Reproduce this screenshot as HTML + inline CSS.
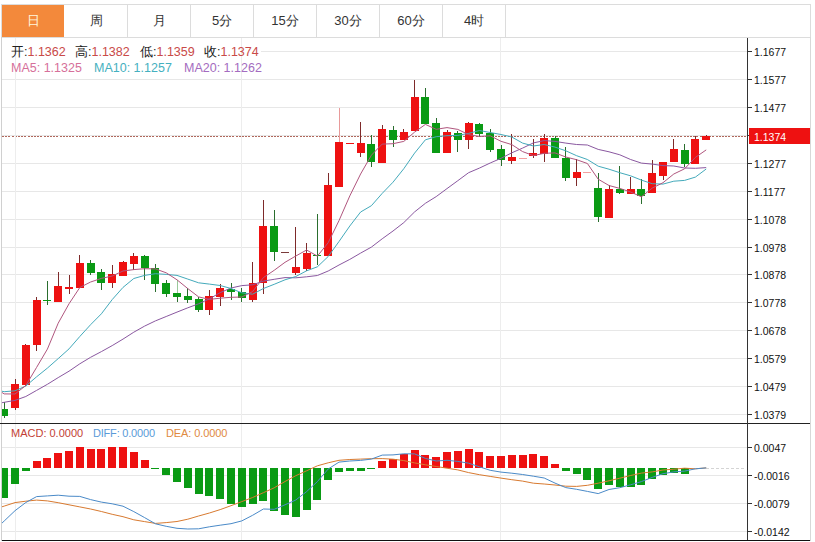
<!DOCTYPE html>
<html><head><meta charset="utf-8"><style>
html,body{margin:0;padding:0;background:#fff;}
body{width:815px;height:542px;position:relative;overflow:hidden;font-family:"Liberation Sans",sans-serif;}
.tabs{position:absolute;left:1px;top:4px;width:810px;height:34px;border:1px solid #dcdcdc;box-sizing:border-box;}
.tab{position:absolute;top:0;height:32px;line-height:32px;text-align:center;font-size:13px;color:#333;border-right:1px solid #dcdcdc;box-sizing:border-box;}
.tab.on{background:#f3893b;color:#fff6dc;border-right:none;}
.leg{position:absolute;font-size:12.5px;white-space:nowrap;line-height:14px;}
.lab{color:#222;}
.val{color:#c94a48;}
</style></head><body>
<div class="tabs">
<div class="tab on" style="left:0;width:62px;top:0;">日</div>
<div class="tab" style="left:63px;width:63px;">周</div>
<div class="tab" style="left:126px;width:63px;">月</div>
<div class="tab" style="left:189px;width:63px;">5分</div>
<div class="tab" style="left:252px;width:63px;">15分</div>
<div class="tab" style="left:315px;width:63px;">30分</div>
<div class="tab" style="left:378px;width:63px;">60分</div>
<div class="tab" style="left:441px;width:63px;">4时</div>
</div>
<svg width="815" height="542" style="position:absolute;left:0;top:0">
<g stroke="#e7e7e7" stroke-width="1" shape-rendering="crispEdges">
<line x1="2" y1="51.5" x2="747" y2="51.5"/>
<line x1="2" y1="79.5" x2="747" y2="79.5"/>
<line x1="2" y1="107.5" x2="747" y2="107.5"/>
<line x1="2" y1="135.5" x2="747" y2="135.5"/>
<line x1="2" y1="163.5" x2="747" y2="163.5"/>
<line x1="2" y1="191.5" x2="747" y2="191.5"/>
<line x1="2" y1="219.5" x2="747" y2="219.5"/>
<line x1="2" y1="247.5" x2="747" y2="247.5"/>
<line x1="2" y1="274.5" x2="747" y2="274.5"/>
<line x1="2" y1="302.5" x2="747" y2="302.5"/>
<line x1="2" y1="330.5" x2="747" y2="330.5"/>
<line x1="2" y1="358.5" x2="747" y2="358.5"/>
<line x1="2" y1="386.5" x2="747" y2="386.5"/>
<line x1="2" y1="414.5" x2="747" y2="414.5"/>
<line x1="2" y1="447.5" x2="747" y2="447.5"/>
<line x1="2" y1="475.5" x2="747" y2="475.5"/>
<line x1="2" y1="503.5" x2="747" y2="503.5"/>
<line x1="2" y1="531.5" x2="747" y2="531.5"/>
</g>
<line x1="2" y1="136.5" x2="747" y2="136.5" stroke="#b0685c" stroke-width="1" stroke-dasharray="2 1.2" shape-rendering="crispEdges"/>
<line x1="706" y1="468.5" x2="746" y2="468.5" stroke="#d4d4d4" stroke-width="1" stroke-dasharray="3 2" shape-rendering="crispEdges"/>
<rect x="2" y="42" width="259" height="32" fill="#fff"/>
<rect x="2" y="425" width="229" height="17" fill="#fff"/>
<g stroke="#ededed" stroke-width="1" shape-rendering="crispEdges">
<line x1="15.5" y1="38" x2="15.5" y2="540"/>
<line x1="241.5" y1="38" x2="241.5" y2="540"/>
<line x1="500.5" y1="38" x2="500.5" y2="540"/>
</g>
<g shape-rendering="crispEdges">
<line x1="4.5" y1="402.0" x2="4.5" y2="409.0" stroke="#2a6e2e"/>
<line x1="4.5" y1="416.0" x2="4.5" y2="418.0" stroke="#2a6e2e"/>
<rect x="2" y="409" width="6" height="7" fill="#0a9a14"/>
<line x1="15.5" y1="379.0" x2="15.5" y2="384.0" stroke="#7e2a2a"/>
<line x1="15.5" y1="408.0" x2="15.5" y2="410.0" stroke="#7e2a2a"/>
<rect x="11" y="384" width="8" height="24" fill="#ee1111"/>
<line x1="25.5" y1="344.0" x2="25.5" y2="345.0" stroke="#7e2a2a"/>
<line x1="25.5" y1="385.0" x2="25.5" y2="386.0" stroke="#7e2a2a"/>
<rect x="22" y="345" width="8" height="40" fill="#ee1111"/>
<line x1="36.5" y1="297.0" x2="36.5" y2="300.0" stroke="#7e2a2a"/>
<line x1="36.5" y1="345.0" x2="36.5" y2="351.0" stroke="#7e2a2a"/>
<rect x="33" y="300" width="8" height="45" fill="#ee1111"/>
<line x1="47.5" y1="281.0" x2="47.5" y2="300.0" stroke="#2a6e2e"/>
<line x1="47.5" y1="301.0" x2="47.5" y2="305.0" stroke="#2a6e2e"/>
<rect x="43" y="300" width="8" height="1" fill="#0a9a14"/>
<line x1="58.5" y1="272.0" x2="58.5" y2="286.0" stroke="#7e2a2a"/>
<rect x="54" y="286" width="8" height="16" fill="#ee1111"/>
<line x1="69.5" y1="275.0" x2="69.5" y2="287.0" stroke="#7e2a2a"/>
<line x1="69.5" y1="289.0" x2="69.5" y2="294.0" stroke="#7e2a2a"/>
<rect x="65" y="287" width="8" height="2" fill="#ee1111"/>
<line x1="79.5" y1="255.0" x2="79.5" y2="263.0" stroke="#7e2a2a"/>
<line x1="79.5" y1="288.0" x2="79.5" y2="288.0" stroke="#7e2a2a"/>
<rect x="76" y="263" width="8" height="25" fill="#ee1111"/>
<line x1="90.5" y1="260.0" x2="90.5" y2="263.0" stroke="#2a6e2e"/>
<line x1="90.5" y1="273.0" x2="90.5" y2="275.0" stroke="#2a6e2e"/>
<rect x="87" y="263" width="8" height="10" fill="#0a9a14"/>
<line x1="101.5" y1="269.0" x2="101.5" y2="272.0" stroke="#2a6e2e"/>
<line x1="101.5" y1="283.0" x2="101.5" y2="290.0" stroke="#2a6e2e"/>
<rect x="97" y="272" width="8" height="11" fill="#0a9a14"/>
<line x1="112.5" y1="265.0" x2="112.5" y2="274.0" stroke="#7e2a2a"/>
<line x1="112.5" y1="283.0" x2="112.5" y2="288.0" stroke="#7e2a2a"/>
<rect x="108" y="274" width="8" height="9" fill="#ee1111"/>
<line x1="123.5" y1="261.0" x2="123.5" y2="262.0" stroke="#7e2a2a"/>
<rect x="119" y="262" width="8" height="14" fill="#ee1111"/>
<line x1="133.5" y1="253.0" x2="133.5" y2="256.0" stroke="#7e2a2a"/>
<line x1="133.5" y1="264.0" x2="133.5" y2="270.0" stroke="#7e2a2a"/>
<rect x="130" y="256" width="8" height="8" fill="#ee1111"/>
<line x1="144.5" y1="255.0" x2="144.5" y2="256.0" stroke="#2a6e2e"/>
<line x1="144.5" y1="268.0" x2="144.5" y2="280.0" stroke="#2a6e2e"/>
<rect x="141" y="256" width="8" height="12" fill="#0a9a14"/>
<line x1="155.5" y1="264.0" x2="155.5" y2="268.0" stroke="#2a6e2e"/>
<line x1="155.5" y1="284.0" x2="155.5" y2="292.0" stroke="#2a6e2e"/>
<rect x="151" y="268" width="8" height="16" fill="#0a9a14"/>
<line x1="166.5" y1="280.0" x2="166.5" y2="283.0" stroke="#2a6e2e"/>
<line x1="166.5" y1="294.0" x2="166.5" y2="297.0" stroke="#2a6e2e"/>
<rect x="162" y="283" width="8" height="11" fill="#0a9a14"/>
<line x1="177.5" y1="280.0" x2="177.5" y2="293.0" stroke="#9ac89a"/>
<line x1="177.5" y1="297.0" x2="177.5" y2="302.0" stroke="#2a6e2e"/>
<rect x="173" y="293" width="8" height="4" fill="#0a9a14"/>
<line x1="187.5" y1="288.0" x2="187.5" y2="296.0" stroke="#2a6e2e"/>
<line x1="187.5" y1="300.0" x2="187.5" y2="303.0" stroke="#2a6e2e"/>
<rect x="184" y="296" width="8" height="4" fill="#0a9a14"/>
<line x1="198.5" y1="297.0" x2="198.5" y2="299.0" stroke="#2a6e2e"/>
<line x1="198.5" y1="310.0" x2="198.5" y2="312.0" stroke="#2a6e2e"/>
<rect x="195" y="299" width="8" height="11" fill="#0a9a14"/>
<line x1="209.5" y1="290.0" x2="209.5" y2="296.0" stroke="#7e2a2a"/>
<line x1="209.5" y1="310.0" x2="209.5" y2="315.0" stroke="#7e2a2a"/>
<rect x="205" y="296" width="8" height="14" fill="#ee1111"/>
<line x1="220.5" y1="284.0" x2="220.5" y2="288.0" stroke="#7e2a2a"/>
<line x1="220.5" y1="297.0" x2="220.5" y2="306.0" stroke="#7e2a2a"/>
<rect x="216" y="288" width="8" height="9" fill="#ee1111"/>
<line x1="231.5" y1="283.0" x2="231.5" y2="289.0" stroke="#2a6e2e"/>
<line x1="231.5" y1="292.0" x2="231.5" y2="300.0" stroke="#2a6e2e"/>
<rect x="227" y="289" width="8" height="3" fill="#0a9a14"/>
<line x1="241.5" y1="288.0" x2="241.5" y2="292.0" stroke="#2a6e2e"/>
<line x1="241.5" y1="298.0" x2="241.5" y2="302.0" stroke="#2a6e2e"/>
<rect x="238" y="292" width="8" height="6" fill="#0a9a14"/>
<line x1="252.5" y1="262.0" x2="252.5" y2="283.0" stroke="#7e2a2a"/>
<line x1="252.5" y1="300.0" x2="252.5" y2="302.0" stroke="#7e2a2a"/>
<rect x="249" y="283" width="8" height="17" fill="#ee1111"/>
<line x1="263.5" y1="200.0" x2="263.5" y2="226.0" stroke="#7e2a2a"/>
<line x1="263.5" y1="283.0" x2="263.5" y2="294.0" stroke="#7e2a2a"/>
<rect x="259" y="226" width="8" height="57" fill="#ee1111"/>
<line x1="274.5" y1="210.0" x2="274.5" y2="226.0" stroke="#2a6e2e"/>
<line x1="274.5" y1="252.0" x2="274.5" y2="261.0" stroke="#2a6e2e"/>
<rect x="270" y="226" width="8" height="26" fill="#0a9a14"/>
<rect x="281" y="252" width="8" height="1" fill="#7a3a3a"/>
<line x1="295.5" y1="227.0" x2="295.5" y2="267.0" stroke="#7e2a2a"/>
<line x1="295.5" y1="273.0" x2="295.5" y2="275.0" stroke="#7e2a2a"/>
<rect x="292" y="267" width="8" height="6" fill="#ee1111"/>
<line x1="306.5" y1="243.0" x2="306.5" y2="253.0" stroke="#7e2a2a"/>
<line x1="306.5" y1="269.0" x2="306.5" y2="271.0" stroke="#7e2a2a"/>
<rect x="303" y="253" width="8" height="16" fill="#ee1111"/>
<line x1="317.5" y1="214.0" x2="317.5" y2="255.0" stroke="#2a6e2e"/>
<line x1="317.5" y1="256.0" x2="317.5" y2="265.0" stroke="#2a6e2e"/>
<rect x="313" y="255" width="8" height="1" fill="#0a9a14"/>
<line x1="328.5" y1="173.0" x2="328.5" y2="185.0" stroke="#7e2a2a"/>
<rect x="324" y="185" width="8" height="71" fill="#ee1111"/>
<line x1="339.5" y1="108.0" x2="339.5" y2="142.0" stroke="#e89a9a"/>
<rect x="335" y="142" width="8" height="45" fill="#ee1111"/>
<rect x="346" y="143" width="8" height="1" fill="#ee1111"/>
<line x1="360.5" y1="122.0" x2="360.5" y2="143.0" stroke="#7e2a2a"/>
<line x1="360.5" y1="153.0" x2="360.5" y2="157.0" stroke="#7e2a2a"/>
<rect x="357" y="143" width="8" height="10" fill="#ee1111"/>
<line x1="371.5" y1="135.0" x2="371.5" y2="144.0" stroke="#2a6e2e"/>
<line x1="371.5" y1="162.0" x2="371.5" y2="167.0" stroke="#2a6e2e"/>
<rect x="367" y="144" width="8" height="18" fill="#0a9a14"/>
<line x1="382.5" y1="125.0" x2="382.5" y2="129.0" stroke="#7e2a2a"/>
<rect x="378" y="129" width="8" height="34" fill="#ee1111"/>
<line x1="393.5" y1="126.0" x2="393.5" y2="130.0" stroke="#2a6e2e"/>
<line x1="393.5" y1="140.0" x2="393.5" y2="147.0" stroke="#2a6e2e"/>
<rect x="389" y="130" width="8" height="10" fill="#0a9a14"/>
<line x1="403.5" y1="129.0" x2="403.5" y2="132.0" stroke="#7e2a2a"/>
<rect x="400" y="132" width="8" height="8" fill="#ee1111"/>
<line x1="414.5" y1="80.0" x2="414.5" y2="97.0" stroke="#7e2a2a"/>
<rect x="411" y="97" width="8" height="34" fill="#ee1111"/>
<line x1="425.5" y1="88.0" x2="425.5" y2="97.0" stroke="#2a6e2e"/>
<rect x="421" y="97" width="8" height="27" fill="#0a9a14"/>
<line x1="436.5" y1="118.0" x2="436.5" y2="123.0" stroke="#2a6e2e"/>
<rect x="432" y="123" width="8" height="30" fill="#0a9a14"/>
<line x1="447.5" y1="130.0" x2="447.5" y2="132.0" stroke="#7e2a2a"/>
<rect x="443" y="132" width="8" height="21" fill="#ee1111"/>
<line x1="457.5" y1="131.0" x2="457.5" y2="133.0" stroke="#2a6e2e"/>
<line x1="457.5" y1="140.0" x2="457.5" y2="152.0" stroke="#2a6e2e"/>
<rect x="454" y="133" width="8" height="7" fill="#0a9a14"/>
<line x1="468.5" y1="122.0" x2="468.5" y2="123.0" stroke="#7e2a2a"/>
<line x1="468.5" y1="140.0" x2="468.5" y2="149.0" stroke="#7e2a2a"/>
<rect x="465" y="123" width="8" height="17" fill="#ee1111"/>
<line x1="479.5" y1="123.0" x2="479.5" y2="124.0" stroke="#2a6e2e"/>
<line x1="479.5" y1="134.0" x2="479.5" y2="137.0" stroke="#2a6e2e"/>
<rect x="475" y="124" width="8" height="10" fill="#0a9a14"/>
<line x1="490.5" y1="129.0" x2="490.5" y2="133.0" stroke="#2a6e2e"/>
<line x1="490.5" y1="150.0" x2="490.5" y2="152.0" stroke="#2a6e2e"/>
<rect x="486" y="133" width="8" height="17" fill="#0a9a14"/>
<line x1="501.5" y1="145.0" x2="501.5" y2="149.0" stroke="#2a6e2e"/>
<line x1="501.5" y1="160.0" x2="501.5" y2="166.0" stroke="#2a6e2e"/>
<rect x="497" y="149" width="8" height="11" fill="#0a9a14"/>
<line x1="511.5" y1="134.0" x2="511.5" y2="157.0" stroke="#7e2a2a"/>
<line x1="511.5" y1="161.0" x2="511.5" y2="164.0" stroke="#7e2a2a"/>
<rect x="508" y="157" width="8" height="4" fill="#ee1111"/>
<rect x="519" y="158" width="8" height="1" fill="#f4a0a0"/>
<line x1="533.5" y1="139.0" x2="533.5" y2="153.0" stroke="#7e2a2a"/>
<line x1="533.5" y1="156.0" x2="533.5" y2="158.0" stroke="#7e2a2a"/>
<rect x="529" y="153" width="8" height="3" fill="#ee1111"/>
<line x1="544.5" y1="134.0" x2="544.5" y2="138.0" stroke="#7e2a2a"/>
<line x1="544.5" y1="154.0" x2="544.5" y2="162.0" stroke="#7e2a2a"/>
<rect x="540" y="138" width="8" height="16" fill="#ee1111"/>
<line x1="555.5" y1="136.0" x2="555.5" y2="138.0" stroke="#2a6e2e"/>
<rect x="551" y="138" width="8" height="20" fill="#0a9a14"/>
<line x1="565.5" y1="147.0" x2="565.5" y2="158.0" stroke="#2a6e2e"/>
<line x1="565.5" y1="178.0" x2="565.5" y2="181.0" stroke="#2a6e2e"/>
<rect x="562" y="158" width="8" height="20" fill="#0a9a14"/>
<line x1="576.5" y1="159.0" x2="576.5" y2="172.0" stroke="#7e2a2a"/>
<line x1="576.5" y1="178.0" x2="576.5" y2="186.0" stroke="#7e2a2a"/>
<rect x="573" y="172" width="8" height="6" fill="#ee1111"/>
<rect x="583" y="172" width="8" height="1" fill="#f4a0a0"/>
<line x1="598.5" y1="173.0" x2="598.5" y2="188.0" stroke="#2a6e2e"/>
<line x1="598.5" y1="217.0" x2="598.5" y2="222.0" stroke="#2a6e2e"/>
<rect x="594" y="188" width="8" height="29" fill="#0a9a14"/>
<line x1="609.5" y1="185.0" x2="609.5" y2="189.0" stroke="#7e2a2a"/>
<rect x="605" y="189" width="8" height="29" fill="#ee1111"/>
<line x1="619.5" y1="166.0" x2="619.5" y2="189.0" stroke="#2a6e2e"/>
<line x1="619.5" y1="193.0" x2="619.5" y2="194.0" stroke="#2a6e2e"/>
<rect x="616" y="189" width="8" height="4" fill="#0a9a14"/>
<line x1="630.5" y1="177.0" x2="630.5" y2="189.0" stroke="#7e2a2a"/>
<rect x="627" y="189" width="8" height="5" fill="#ee1111"/>
<line x1="641.5" y1="179.0" x2="641.5" y2="189.0" stroke="#2a6e2e"/>
<line x1="641.5" y1="196.0" x2="641.5" y2="204.0" stroke="#2a6e2e"/>
<rect x="637" y="189" width="8" height="7" fill="#0a9a14"/>
<line x1="652.5" y1="160.0" x2="652.5" y2="173.0" stroke="#7e2a2a"/>
<rect x="648" y="173" width="8" height="20" fill="#ee1111"/>
<line x1="663.5" y1="176.0" x2="663.5" y2="180.0" stroke="#7e2a2a"/>
<rect x="659" y="162" width="8" height="14" fill="#ee1111"/>
<line x1="673.5" y1="139.0" x2="673.5" y2="149.0" stroke="#7e2a2a"/>
<rect x="670" y="149" width="8" height="13" fill="#ee1111"/>
<line x1="684.5" y1="144.0" x2="684.5" y2="150.0" stroke="#2a6e2e"/>
<line x1="684.5" y1="164.0" x2="684.5" y2="167.0" stroke="#2a6e2e"/>
<rect x="681" y="150" width="8" height="14" fill="#0a9a14"/>
<line x1="695.5" y1="136.0" x2="695.5" y2="139.0" stroke="#7e2a2a"/>
<rect x="691" y="139" width="8" height="25" fill="#ee1111"/>
<line x1="706.5" y1="135.0" x2="706.5" y2="136.0" stroke="#7e2a2a"/>
<rect x="702" y="136" width="8" height="4" fill="#ee1111"/>
</g>
<svg x="2" y="38" width="745" height="385" overflow="hidden"><g transform="translate(-2,-38)">
<polyline points="-6.6,404.3 4.2,402.3 15.0,400.4 25.8,396.5 36.6,390.4 47.4,384.3 58.2,377.6 69.0,371.2 79.8,363.8 90.6,357.3 101.4,351.6 112.2,345.6 123.0,339.1 133.8,332.2 144.6,326.1 155.4,320.9 166.2,316.5 177.0,312.1 187.8,307.8 198.6,303.8 209.4,298.9 220.2,292.6 231.0,288.0 241.8,285.6 252.6,284.8 263.4,281.1 274.2,279.3 285.0,277.6 295.8,277.8 306.6,276.8 317.4,275.5 328.2,271.0 339.0,265.0 349.8,259.4 360.6,253.1 371.4,247.1 382.2,238.8 393.0,231.0 403.8,222.6 414.6,211.9 425.4,203.3 436.2,196.6 447.0,188.6 457.8,180.7 468.6,172.7 479.4,168.1 490.2,163.0 501.0,158.3 511.8,152.8 522.6,148.1 533.4,142.9 544.2,140.6 555.0,141.4 565.8,143.1 576.6,144.5 587.4,145.0 598.2,149.4 609.0,151.8 619.8,154.8 630.6,159.5 641.4,163.1 652.2,164.1 663.0,165.6 673.8,166.0 684.6,168.0 695.4,168.3 706.2,167.6" fill="none" stroke="#8a58a0" stroke-width="1"/>
<polyline points="-6.6,389.4 4.2,391.7 15.0,390.8 25.8,386.0 36.6,376.8 47.4,368.1 58.2,358.6 69.0,348.9 79.8,336.5 90.6,324.7 101.4,313.8 112.2,299.6 123.0,287.4 133.8,278.5 144.6,275.4 155.4,273.7 166.2,274.4 177.0,275.4 187.8,279.1 198.6,282.8 209.4,284.1 220.2,285.5 231.0,288.5 241.8,292.8 252.6,294.2 263.4,288.5 274.2,284.3 285.0,279.8 295.8,276.5 306.6,270.8 317.4,266.8 328.2,256.5 339.0,241.5 349.8,226.0 360.6,212.0 371.4,205.7 382.2,193.4 393.0,182.2 403.8,168.7 414.6,153.1 425.4,139.8 436.2,136.7 447.0,135.7 457.8,135.4 468.6,133.4 479.4,130.5 490.2,132.5 501.0,134.5 511.8,137.0 522.6,143.1 533.4,146.0 544.2,144.5 555.0,147.1 565.8,150.8 576.6,155.7 587.4,159.5 598.2,166.2 609.0,169.2 619.8,172.7 630.6,175.8 641.4,180.1 652.2,183.7 663.0,184.1 673.8,181.2 684.6,180.4 695.4,177.1 706.2,169.0" fill="none" stroke="#44aabb" stroke-width="1"/>
<polyline points="-6.6,387.1 4.2,393.9 15.0,394.0 25.8,385.5 36.6,367.4 47.4,349.1 58.2,323.2 69.0,303.8 79.8,287.5 90.6,282.0 101.4,278.4 112.2,276.0 123.0,271.0 133.8,269.6 144.6,268.7 155.4,268.9 166.2,272.8 177.0,279.8 187.8,288.6 198.6,296.9 209.4,299.4 220.2,298.2 231.0,297.3 241.8,297.0 252.6,291.6 263.4,277.6 274.2,270.3 285.0,262.3 295.8,256.0 306.6,250.0 317.4,256.1 328.2,242.7 339.0,220.6 349.8,195.9 360.6,174.0 371.4,155.2 382.2,144.1 393.0,143.7 403.8,141.4 414.6,132.1 425.4,124.4 436.2,129.3 447.0,127.6 457.8,129.4 468.6,134.6 479.4,136.5 490.2,135.8 501.0,141.3 511.8,144.6 522.6,151.6 533.4,155.6 544.2,153.3 555.0,152.9 565.8,157.0 576.6,159.7 587.4,163.5 598.2,179.2 609.0,185.5 619.8,188.4 630.6,192.0 641.4,196.8 652.2,188.1 663.0,182.7 673.8,174.0 684.6,168.8 695.4,157.4 706.2,149.9" fill="none" stroke="#b0567e" stroke-width="1"/>
</g></svg>
<g shape-rendering="crispEdges">
<rect x="2" y="468" width="6" height="30" fill="#0a9a14"/>
<rect x="11" y="468" width="8" height="16" fill="#0a9a14"/>
<rect x="22" y="468" width="8" height="3" fill="#0a9a14"/>
<rect x="33" y="461" width="8" height="7" fill="#ee1111"/>
<rect x="43" y="458" width="8" height="10" fill="#ee1111"/>
<rect x="54" y="453" width="8" height="15" fill="#ee1111"/>
<rect x="65" y="451" width="8" height="17" fill="#ee1111"/>
<rect x="76" y="447" width="8" height="21" fill="#ee1111"/>
<rect x="87" y="449" width="8" height="19" fill="#ee1111"/>
<rect x="97" y="449" width="8" height="19" fill="#ee1111"/>
<rect x="108" y="447" width="8" height="21" fill="#ee1111"/>
<rect x="119" y="447" width="8" height="21" fill="#ee1111"/>
<rect x="130" y="452" width="8" height="16" fill="#ee1111"/>
<rect x="141" y="460" width="8" height="8" fill="#ee1111"/>
<rect x="151" y="468" width="8" height="1" fill="#0a9a14"/>
<rect x="162" y="468" width="8" height="7" fill="#0a9a14"/>
<rect x="173" y="468" width="8" height="14" fill="#0a9a14"/>
<rect x="184" y="468" width="8" height="20" fill="#0a9a14"/>
<rect x="195" y="468" width="8" height="26" fill="#0a9a14"/>
<rect x="205" y="468" width="8" height="28" fill="#0a9a14"/>
<rect x="216" y="468" width="8" height="31" fill="#0a9a14"/>
<rect x="227" y="468" width="8" height="36" fill="#0a9a14"/>
<rect x="238" y="468" width="8" height="39" fill="#0a9a14"/>
<rect x="249" y="468" width="8" height="36" fill="#0a9a14"/>
<rect x="259" y="468" width="8" height="33" fill="#0a9a14"/>
<rect x="270" y="468" width="8" height="43" fill="#0a9a14"/>
<rect x="281" y="468" width="8" height="47" fill="#0a9a14"/>
<rect x="292" y="468" width="8" height="49" fill="#0a9a14"/>
<rect x="303" y="468" width="8" height="42" fill="#0a9a14"/>
<rect x="313" y="468" width="8" height="32" fill="#0a9a14"/>
<rect x="324" y="468" width="8" height="12" fill="#0a9a14"/>
<rect x="335" y="468" width="8" height="4" fill="#0a9a14"/>
<rect x="346" y="468" width="8" height="3" fill="#0a9a14"/>
<rect x="357" y="468" width="8" height="3" fill="#0a9a14"/>
<rect x="367" y="468" width="8" height="1" fill="#0a9a14"/>
<rect x="378" y="461" width="8" height="7" fill="#ee1111"/>
<rect x="389" y="459" width="8" height="9" fill="#ee1111"/>
<rect x="400" y="454" width="8" height="14" fill="#ee1111"/>
<rect x="411" y="450" width="8" height="18" fill="#ee1111"/>
<rect x="421" y="455" width="8" height="13" fill="#ee1111"/>
<rect x="432" y="457" width="8" height="11" fill="#ee1111"/>
<rect x="443" y="452" width="8" height="16" fill="#ee1111"/>
<rect x="454" y="451" width="8" height="17" fill="#ee1111"/>
<rect x="465" y="449" width="8" height="19" fill="#ee1111"/>
<rect x="475" y="452" width="8" height="16" fill="#ee1111"/>
<rect x="486" y="456" width="8" height="12" fill="#ee1111"/>
<rect x="497" y="456" width="8" height="12" fill="#ee1111"/>
<rect x="508" y="455" width="8" height="13" fill="#ee1111"/>
<rect x="519" y="455" width="8" height="13" fill="#ee1111"/>
<rect x="529" y="454" width="8" height="14" fill="#ee1111"/>
<rect x="540" y="456" width="8" height="12" fill="#ee1111"/>
<rect x="551" y="464" width="8" height="4" fill="#ee1111"/>
<rect x="562" y="468" width="8" height="3" fill="#0a9a14"/>
<rect x="573" y="468" width="8" height="6" fill="#0a9a14"/>
<rect x="583" y="468" width="8" height="12" fill="#0a9a14"/>
<rect x="594" y="468" width="8" height="21" fill="#0a9a14"/>
<rect x="605" y="468" width="8" height="17" fill="#0a9a14"/>
<rect x="616" y="468" width="8" height="19" fill="#0a9a14"/>
<rect x="627" y="468" width="8" height="19" fill="#0a9a14"/>
<rect x="637" y="468" width="8" height="17" fill="#0a9a14"/>
<rect x="648" y="468" width="8" height="11" fill="#0a9a14"/>
<rect x="659" y="468" width="8" height="7" fill="#0a9a14"/>
<rect x="670" y="468" width="8" height="5" fill="#0a9a14"/>
<rect x="681" y="468" width="8" height="6" fill="#0a9a14"/>
</g>
<svg x="2" y="424" width="745" height="116" overflow="hidden"><g transform="translate(-2,-424)">
<polyline points="-6.6,509.5 4.2,506.1 15.0,502.6 25.8,501.2 36.6,500.1 47.4,500.9 58.2,502.7 69.0,504.8 79.8,506.9 90.6,509.0 101.4,511.5 112.2,514.3 123.0,516.7 133.8,519.8 144.6,521.6 155.4,523.4 166.2,522.6 177.0,521.5 187.8,519.2 198.6,516.0 209.4,513.0 220.2,509.6 231.0,505.7 241.8,501.6 252.6,497.5 263.4,492.7 274.2,487.8 285.0,481.5 295.8,475.7 306.6,470.8 317.4,465.8 328.2,462.8 339.0,460.3 349.8,459.5 360.6,459.1 371.4,458.7 382.2,458.6 393.0,459.2 403.8,460.6 414.6,462.9 425.4,464.8 436.2,466.5 447.0,468.2 457.8,469.9 468.6,472.6 479.4,474.7 490.2,476.4 501.0,478.1 511.8,479.7 522.6,481.1 533.4,483.2 544.2,484.0 555.0,485.0 565.8,486.2 576.6,486.4 587.4,485.3 598.2,483.2 609.0,480.8 619.8,478.2 630.6,475.5 641.4,473.1 652.2,471.9 663.0,470.0 673.8,469.2 684.6,468.2 695.4,468.8 706.2,467.9" fill="none" stroke="#d87a30" stroke-width="1"/>
<polyline points="-6.6,531.2 4.2,521.0 15.0,510.7 25.8,502.5 36.6,496.6 47.4,495.9 58.2,495.2 69.0,496.2 79.8,496.4 90.6,499.6 101.4,502.1 112.2,503.8 123.0,506.2 133.8,511.6 144.6,517.6 155.4,523.8 166.2,526.3 177.0,528.3 187.8,529.0 198.6,528.8 209.4,526.8 220.2,525.2 231.0,523.7 241.8,520.9 252.6,515.3 263.4,509.0 274.2,509.3 285.0,504.8 295.8,500.0 306.6,491.6 317.4,481.6 328.2,469.0 339.0,462.1 349.8,461.0 360.6,460.4 371.4,459.1 382.2,455.1 393.0,454.9 403.8,453.8 414.6,453.9 425.4,458.4 436.2,461.0 447.0,460.3 457.8,461.4 468.6,463.2 479.4,466.8 490.2,470.3 501.0,472.1 511.8,473.2 522.6,474.5 533.4,476.2 544.2,478.0 555.0,483.1 565.8,487.6 576.6,489.3 587.4,491.4 598.2,493.6 609.0,489.5 619.8,487.7 630.6,484.8 641.4,481.6 652.2,477.4 663.0,473.7 673.8,471.9 684.6,471.1 695.4,468.8 706.2,467.9" fill="none" stroke="#4a8ac8" stroke-width="1"/>
</g></svg>
<g shape-rendering="crispEdges" stroke-width="1">
<line x1="1.5" y1="37" x2="1.5" y2="541" stroke="#d0d0d0"/>
<line x1="810.5" y1="37" x2="810.5" y2="541" stroke="#d8d8d8"/>
<line x1="0" y1="423.5" x2="810" y2="423.5" stroke="#222"/>
<line x1="2" y1="540.5" x2="810" y2="540.5" stroke="#111"/>
<line x1="747.5" y1="38" x2="747.5" y2="540" stroke="#333"/>
<line x1="748" y1="51.5" x2="752" y2="51.5" stroke="#333"/>
<line x1="748" y1="79.5" x2="752" y2="79.5" stroke="#333"/>
<line x1="748" y1="107.5" x2="752" y2="107.5" stroke="#333"/>
<line x1="748" y1="135.5" x2="752" y2="135.5" stroke="#333"/>
<line x1="748" y1="163.5" x2="752" y2="163.5" stroke="#333"/>
<line x1="748" y1="191.5" x2="752" y2="191.5" stroke="#333"/>
<line x1="748" y1="219.5" x2="752" y2="219.5" stroke="#333"/>
<line x1="748" y1="247.5" x2="752" y2="247.5" stroke="#333"/>
<line x1="748" y1="274.5" x2="752" y2="274.5" stroke="#333"/>
<line x1="748" y1="302.5" x2="752" y2="302.5" stroke="#333"/>
<line x1="748" y1="330.5" x2="752" y2="330.5" stroke="#333"/>
<line x1="748" y1="358.5" x2="752" y2="358.5" stroke="#333"/>
<line x1="748" y1="386.5" x2="752" y2="386.5" stroke="#333"/>
<line x1="748" y1="414.5" x2="752" y2="414.5" stroke="#333"/>
<line x1="748" y1="447.5" x2="752" y2="447.5" stroke="#333"/>
<line x1="748" y1="475.5" x2="752" y2="475.5" stroke="#333"/>
<line x1="748" y1="503.5" x2="752" y2="503.5" stroke="#333"/>
<line x1="748" y1="531.5" x2="752" y2="531.5" stroke="#333"/>
</g>
<g font-family="Liberation Sans, sans-serif" font-size="10.5" fill="#111">
<text x="754" y="52.3" dominant-baseline="central">1.1677</text>
<text x="754" y="80.1" dominant-baseline="central">1.1577</text>
<text x="754" y="107.7" dominant-baseline="central">1.1477</text>
<text x="754" y="163.7" dominant-baseline="central">1.1277</text>
<text x="754" y="191.8" dominant-baseline="central">1.1177</text>
<text x="754" y="219.5" dominant-baseline="central">1.1078</text>
<text x="754" y="247.8" dominant-baseline="central">1.0978</text>
<text x="754" y="275.2" dominant-baseline="central">1.0878</text>
<text x="754" y="302.9" dominant-baseline="central">1.0778</text>
<text x="754" y="330.6" dominant-baseline="central">1.0678</text>
<text x="754" y="358.6" dominant-baseline="central">1.0579</text>
<text x="754" y="386.6" dominant-baseline="central">1.0479</text>
<text x="754" y="414.7" dominant-baseline="central">1.0379</text>
<text x="754" y="448.0" dominant-baseline="central">0.0047</text>
<text x="754" y="475.6" dominant-baseline="central">-0.0016</text>
<text x="754" y="503.8" dominant-baseline="central">-0.0079</text>
<text x="754" y="531.9" dominant-baseline="central">-0.0142</text>
</g>
<rect x="749" y="128" width="61" height="16" fill="#ee1111"/>
<text x="754" y="136.5" dominant-baseline="central" font-family="Liberation Sans, sans-serif" font-size="10.5" fill="#fff">1.1374</text>
</svg>
<div class="leg" style="left:11px;top:45px;"><span class="lab">开:</span><span class="val">1.1362</span></div>
<div class="leg" style="left:75px;top:45px;"><span class="lab">高:</span><span class="val">1.1382</span></div>
<div class="leg" style="left:140px;top:45px;"><span class="lab">低:</span><span class="val">1.1359</span></div>
<div class="leg" style="left:204px;top:45px;"><span class="lab">收:</span><span class="val">1.1374</span></div>
<div class="leg" style="left:11px;top:61px;color:#d6709a;">MA5: 1.1325</div>
<div class="leg" style="left:94px;top:61px;color:#45b0c0;">MA10: 1.1257</div>
<div class="leg" style="left:184px;top:61px;color:#a46cc0;">MA20: 1.1262</div>
<div class="leg" style="left:11px;top:426px;font-size:11px;color:#c23e34;">MACD: 0.0000</div>
<div class="leg" style="left:93px;top:426px;font-size:11px;letter-spacing:-0.2px;color:#5a9ad8;">DIFF: 0.0000</div>
<div class="leg" style="left:166px;top:426px;font-size:11px;letter-spacing:-0.1px;color:#e08a40;">DEA: 0.0000</div>
</body></html>
